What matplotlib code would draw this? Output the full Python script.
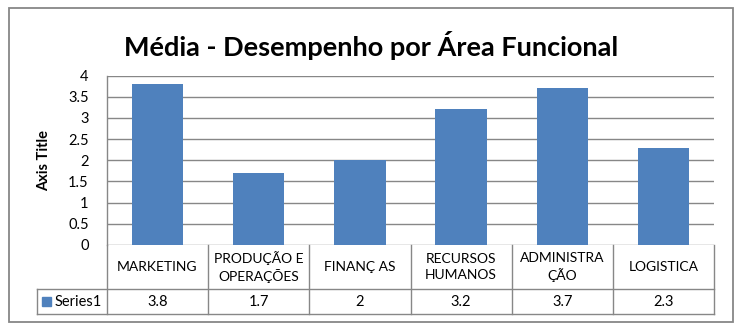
import matplotlib.pyplot as plt
from matplotlib.patches import Rectangle

# dados da planilha
areas = ["MARKETING", "PRODUÇÃO E\nOPERAÇÕES", "FINANÇ AS", "RECURSOS\nHUMANOS", "ADMINISTRA\nÇÃO", "LOGISTICA"]
medias = [3.8, 1.7, 2, 3.2, 3.7, 2.3]
serie = "Series1"
yticks = [0, 0.5, 1, 1.5, 2, 2.5, 3, 3.5, 4]

titulo = "Média - Desempenho por Área Funcional"
eixo_y = "Axis Title"

AZUL = "#4F81BD"
CINZA = "#878787"

plt.rcParams['font.family'] = ['Lato', 'DejaVu Sans']

fig = plt.figure(figsize=(7.45, 3.27), dpi=100)
W, H = 745, 327
ax = fig.add_axes([106.7 / W, 1 - 245 / H, 607.6 / W, 169.5 / H])

x = list(range(len(areas)))
ax.bar(x, medias, width=0.51, color=AZUL, zorder=3)
ax.set_xlim(-0.5, len(areas) - 0.5)
ax.set_ylim(0, 4)
ax.set_yticks(yticks)
ax.set_yticklabels([f"{v:g}" for v in yticks], fontsize=10.5)
ax.tick_params(axis='y', length=0, pad=13)
ax.set_xticks([])
ax.grid(axis='y', color=CINZA, lw=1, zorder=0)
for s in ['top', 'right', 'bottom']:
    ax.spines[s].set_visible(False)
ax.spines['left'].set_color(CINZA)
ax.spines['left'].set_linewidth(1)

# tabela de dados abaixo do gráfico
h1 = 44.3 / 169.5
h2 = 24.7 / 169.5
esq = (36.7 - 106.7) / 607.6
tx = ax.get_xaxis_transform()
ta = ax.transAxes
kw = dict(color=CINZA, lw=1, clip_on=False)
ax.plot([-0.5, -0.5], [0, -h1 - h2], transform=tx, **kw)
for i in range(len(areas)):
    ax.plot([i + 0.5, i + 0.5], [0, -h1 - h2], transform=tx, **kw)
ax.plot([esq, esq], [-h1, -h1 - h2], transform=ta, **kw)
ax.plot([esq, 1], [-h1, -h1], transform=ta, **kw)
ax.plot([esq, 1], [-h1 - h2, -h1 - h2], transform=ta, **kw)

for i, (nome, v) in enumerate(zip(areas, medias)):
    ax.text(i, -h1 / 2, nome, transform=tx, ha='center', va='center',
            fontsize=10, linespacing=1.35)
    ax.text(i, -h1 - h2 / 2, f"{v:g}", transform=tx, ha='center',
            va='center', fontsize=10.5)

# legenda da série na primeira coluna
ax.add_patch(Rectangle((esq + 5.5 / 607.6, -h1 - 16.5 / 169.5), 9 / 607.6, 8.7 / 169.5,
                       transform=ta, color=AZUL, clip_on=False))
ax.text(esq + 18 / 607.6, -h1 - h2 / 2, serie, transform=ta, ha='left',
        va='center', fontsize=10.5)

ax.set_ylabel(eixo_y, fontsize=10.5, fontweight='bold', labelpad=12)

fig.text(371 / W, 1 - 45 / H, titulo, ha='center', va='center',
         fontsize=19.5, fontweight='bold')

# moldura do gráfico
fig.patches.append(Rectangle((9 / W, 1 - 322 / H), 724 / W, 314 / H,
                             transform=fig.transFigure, fill=False,
                             edgecolor=CINZA, lw=1.3))

fig.savefig("out.png", dpi=100)
